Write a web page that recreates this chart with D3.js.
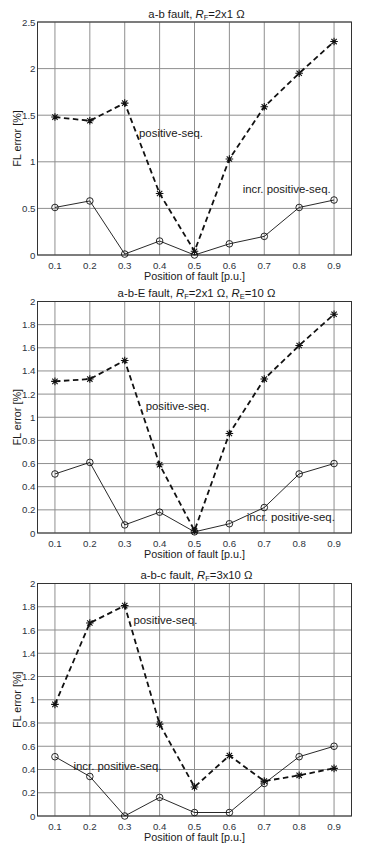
<!DOCTYPE html>
<html>
<head>
<meta charset="utf-8">
<script src="https://cdn.jsdelivr.net/npm/d3@7"></script>
<style>
  body { margin: 0; background: #fff; }
  svg { display: block; font-family: "Liberation Sans", Arial, sans-serif; }
  .grid line { stroke: #8f8f8f; stroke-width: 1; }
  .tick-label { font-size: 9.7px; fill: #2e3440; }
  .title { font-size: 11.3px; fill: #1a1a1a; }
  .axis-label { font-size: 10.8px; fill: #1a1a1a; }
  .note { font-size: 11.4px; fill: #1a1a1a; }
</style>
</head>
<body>
<div id="chart"></div>
<script>
const positions = [0.1, 0.2, 0.3, 0.4, 0.5, 0.6, 0.7, 0.8, 0.9];

// a-b fault, RF = 2x1 ohm
const abPositive = [1.48, 1.44, 1.63, 0.66, 0.04, 1.03, 1.59, 1.95, 2.29];
const abIncr     = [0.51, 0.58, 0.01, 0.15, 0.00, 0.12, 0.20, 0.51, 0.59];

// a-b-E fault, RF = 2x1 ohm, RE = 10 ohm
const abePositive = [1.31, 1.33, 1.49, 0.59, 0.02, 0.86, 1.33, 1.62, 1.89];
const abeIncr     = [0.51, 0.61, 0.07, 0.18, 0.01, 0.08, 0.22, 0.51, 0.60];

// a-b-c fault, RF = 3x10 ohm
const abcPositive = [0.96, 1.66, 1.81, 0.79, 0.25, 0.52, 0.30, 0.35, 0.41];
const abcIncr     = [0.51, 0.34, 0.00, 0.16, 0.03, 0.03, 0.28, 0.51, 0.60];

const abTicks = [0, 0.5, 1, 1.5, 2, 2.5];
const twoTicks = [0, 0.2, 0.4, 0.6, 0.8, 1, 1.2, 1.4, 1.6, 1.8, 2];

const panels = [
  { title: [['a-b fault, '], ['R', 'i'], ['F', 's'], ['=2x1 Ω']],
    positive: abPositive, incr: abIncr, yMax: 2.5, yTicks: abTicks,
    top: 22, bottom: 255,
    notes: [['positive-seq.', 0.341, 1.27], ['incr. positive-seq.', 0.638, 0.67]] },
  { title: [['a-b-E fault, '], ['R', 'i'], ['F', 's'], ['=2x1 Ω, '], ['R', 'i'], ['E', 's'], ['=10 Ω']],
    positive: abePositive, incr: abeIncr, yMax: 2, yTicks: twoTicks,
    top: 301.5, bottom: 533,
    notes: [['positive-seq.', 0.36, 1.06], ['incr. positive-seq.', 0.65, 0.1]] },
  { title: [['a-b-c fault, '], ['R', 'i'], ['F', 's'], ['=3x10 Ω']],
    positive: abcPositive, incr: abcIncr, yMax: 2, yTicks: twoTicks,
    top: 583.5, bottom: 816,
    notes: [['positive-seq.', 0.325, 1.65], ['incr. positive-seq.', 0.153, 0.4]] }
];

const width = 370, height = 853;
const left = 37.5, right = 351.5;

const svg = d3.select('#chart').append('svg')
  .attr('width', width)
  .attr('height', height)
  .attr('viewBox', [0, 0, width, height]);

svg.append('rect').attr('width', width).attr('height', height).attr('fill', '#fff');

const x = d3.scaleLinear().domain([0.05, 0.95]).range([left, right]);

function asterisk(s) {
  const d = s * 0.7071;
  return `M${-s},0L${s},0M0,${-s}L0,${s}M${-d},${-d}L${d},${d}M${-d},${d}L${d},${-d}`;
}

panels.forEach((p) => {
  const y = d3.scaleLinear().domain([0, p.yMax]).range([p.bottom, p.top]);
  const g = svg.append('g');

  // grid
  g.append('g')
    .attr('class', 'grid')
    .selectAll('line')
    .data(positions)
    .join('line')
      .attr('x1', d => x(d)).attr('x2', d => x(d))
      .attr('y1', p.top).attr('y2', p.bottom);

  g.append('g')
    .attr('class', 'grid')
    .selectAll('line')
    .data(p.yTicks)
    .join('line')
      .attr('x1', left).attr('x2', right)
      .attr('y1', d => y(d)).attr('y2', d => y(d));

  // box
  g.append('rect')
    .attr('x', left).attr('y', p.top)
    .attr('width', right - left).attr('height', p.bottom - p.top)
    .attr('fill', 'none').attr('stroke', '#333').attr('stroke-width', 1);

  // tick labels
  g.selectAll('text.xt')
    .data(positions)
    .join('text')
      .attr('class', 'tick-label xt')
      .attr('x', d => x(d))
      .attr('y', p.bottom + 13.5)
      .attr('text-anchor', 'middle')
      .text(d => d);

  g.selectAll('text.yt')
    .data(p.yTicks)
    .join('text')
      .attr('class', 'tick-label yt')
      .attr('x', left - 2)
      .attr('y', d => y(d) + 3.5)
      .attr('text-anchor', 'end')
      .text(d => d);

  // title, with italic R and subscripts
  const t = g.append('text')
    .attr('class', 'title')
    .attr('x', (left + right) / 2 + 2)
    .attr('y', p.top - 4.5)
    .attr('text-anchor', 'middle');
  p.title.forEach(([s, kind], i) => {
    const prev = i > 0 ? p.title[i - 1][1] : null;
    const span = t.append('tspan').text(s);
    if (kind == 'i') span.attr('font-style', 'italic');
    if (kind == 's') span.attr('font-size', '7.5px').attr('dy', 2);
    else if (prev == 's') span.attr('dy', -2);
  });

  g.append('text')
    .attr('class', 'axis-label')
    .attr('x', (left + right) / 2)
    .attr('y', p.bottom + 25)
    .attr('text-anchor', 'middle')
    .text('Position of fault [p.u.]');

  g.append('text')
    .attr('class', 'axis-label')
    .attr('transform', `translate(20.5, ${(p.top + p.bottom) / 2}) rotate(-90)`)
    .attr('text-anchor', 'middle')
    .text('FL error [%]');

  // lines
  const line = d3.line().x((d, i) => x(positions[i])).y(d => y(d));

  g.append('path')
    .datum(p.incr)
    .attr('d', line)
    .attr('fill', 'none')
    .attr('stroke', '#111')
    .attr('stroke-width', 0.9);

  g.append('path')
    .datum(p.positive)
    .attr('d', line)
    .attr('fill', 'none')
    .attr('stroke', '#111')
    .attr('stroke-width', 1.8)
    .attr('stroke-dasharray', '5.5,3.5');

  g.selectAll('circle.m')
    .data(p.incr)
    .join('circle')
      .attr('class', 'm')
      .attr('cx', (d, i) => x(positions[i]))
      .attr('cy', d => y(d))
      .attr('r', 3.3)
      .attr('fill', 'none')
      .attr('stroke', '#111')
      .attr('stroke-width', 0.9);

  g.selectAll('path.star')
    .data(p.positive)
    .join('path')
      .attr('class', 'star')
      .attr('transform', (d, i) => `translate(${x(positions[i])}, ${y(d)})`)
      .attr('d', asterisk(3.8))
      .attr('stroke', '#111')
      .attr('stroke-width', 1.1);

  // annotations
  g.selectAll('text.note')
    .data(p.notes)
    .join('text')
      .attr('class', 'note')
      .attr('x', d => x(d[1]))
      .attr('y', d => y(d[2]))
      .text(d => d[0]);
});
</script>
</body>
</html>
